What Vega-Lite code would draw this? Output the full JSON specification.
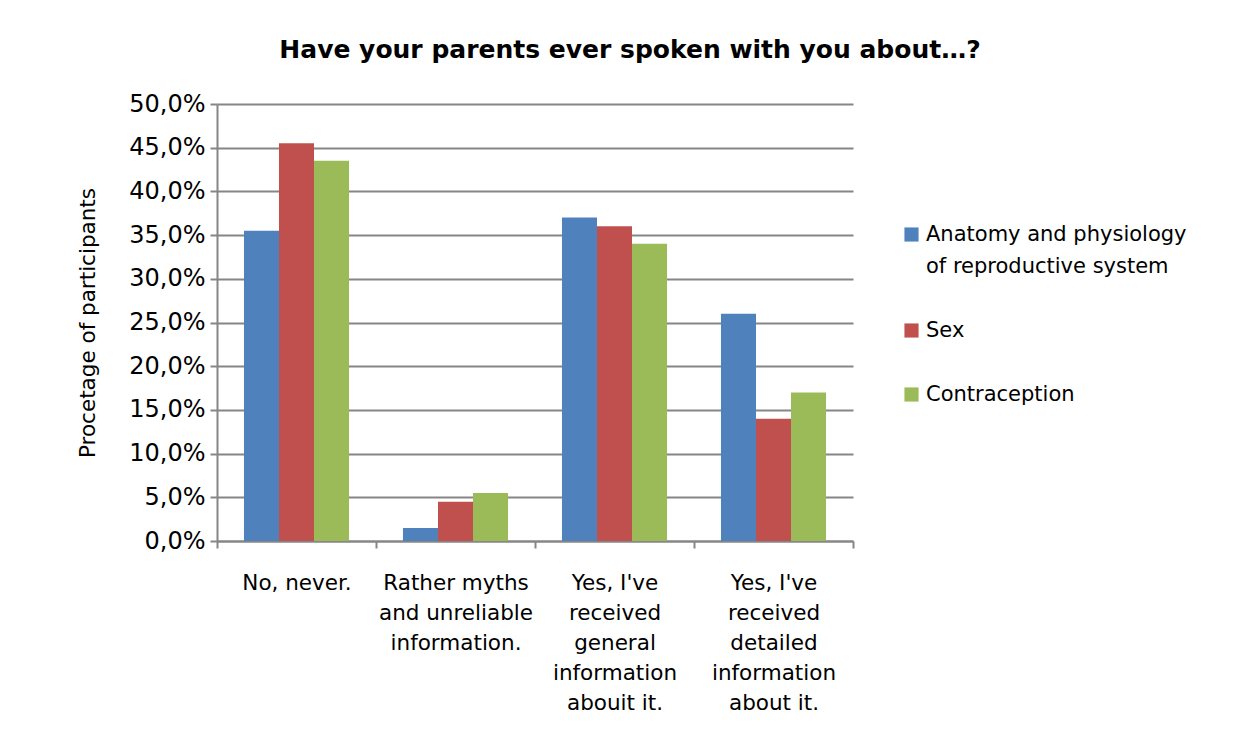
{
  "$schema": "https://vega.github.io/schema/vega-lite/v6.json",
  "width": 636,
  "height": 437,
  "autosize": {"type": "none"},
  "padding": {"left": 217, "top": 104, "right": 389, "bottom": 192},
  "background": "white",
  "title": {
    "text": "Have your parents ever spoken with you about…?",
    "font": "DejaVu Sans",
    "fontSize": 25,
    "fontWeight": "bold",
    "color": "black",
    "anchor": "middle",
    "dx": 95,
    "offset": 29
  },
  "data": {
    "values": [
      {"answer": "No, never.", "topic": "Anatomy and physiology|of reproductive system", "share": 0.355},
      {"answer": "No, never.", "topic": "Sex", "share": 0.455},
      {"answer": "No, never.", "topic": "Contraception", "share": 0.435},
      {"answer": "Rather myths|and unreliable|information.", "topic": "Anatomy and physiology|of reproductive system", "share": 0.015},
      {"answer": "Rather myths|and unreliable|information.", "topic": "Sex", "share": 0.045},
      {"answer": "Rather myths|and unreliable|information.", "topic": "Contraception", "share": 0.055},
      {"answer": "Yes, I've|received|general|information|abouit it.", "topic": "Anatomy and physiology|of reproductive system", "share": 0.37},
      {"answer": "Yes, I've|received|general|information|abouit it.", "topic": "Sex", "share": 0.36},
      {"answer": "Yes, I've|received|general|information|abouit it.", "topic": "Contraception", "share": 0.34},
      {"answer": "Yes, I've|received|detailed|information|about it.", "topic": "Anatomy and physiology|of reproductive system", "share": 0.26},
      {"answer": "Yes, I've|received|detailed|information|about it.", "topic": "Sex", "share": 0.14},
      {"answer": "Yes, I've|received|detailed|information|about it.", "topic": "Contraception", "share": 0.17}
    ]
  },
  "mark": {"type": "bar"},
  "encoding": {
    "x": {
      "field": "answer",
      "type": "nominal",
      "sort": null,
      "scale": {"paddingInner": 0, "paddingOuter": 0},
      "axis": {
        "title": null,
        "labelAngle": 0,
        "labelExpr": "split(datum.label, '|')",
        "labelFont": "DejaVu Sans",
        "labelFontSize": 21.5,
        "labelColor": "black",
        "labelLineHeight": 30,
        "labelPadding": 24,
        "labelBaseline": "top",
        "labelLimit": 200,
        "tickBand": "extent",
        "tickColor": "#868686",
        "tickWidth": 2,
        "tickSize": 7,
        "domainColor": "#868686",
        "domainWidth": 2,
        "grid": false
      }
    },
    "xOffset": {
      "field": "topic",
      "type": "nominal",
      "sort": ["Anatomy and physiology|of reproductive system", "Sex", "Contraception"],
      "scale": {"paddingInner": 0, "paddingOuter": 0.77}
    },
    "y": {
      "field": "share",
      "type": "quantitative",
      "scale": {"domain": [0, 0.5]},
      "axis": {
        "title": "Procetage of participants",
        "titleFont": "DejaVu Sans",
        "titleFontSize": 21.5,
        "titleFontWeight": "normal",
        "titleColor": "black",
        "titlePadding": 29,
        "values": [0, 0.05, 0.1, 0.15, 0.2, 0.25, 0.3, 0.35, 0.4, 0.45, 0.5],
        "labelExpr": "replace(format(datum.value, '.1%'), '.', ',')",
        "labelFont": "DejaVu Sans",
        "labelFontSize": 24,
        "labelColor": "black",
        "labelPadding": 5,
        "tickColor": "#868686",
        "tickWidth": 2,
        "tickSize": 7,
        "domainColor": "#868686",
        "domainWidth": 2,
        "grid": true,
        "gridColor": "#868686",
        "gridWidth": 2
      }
    },
    "color": {
      "field": "topic",
      "type": "nominal",
      "sort": ["Anatomy and physiology|of reproductive system", "Sex", "Contraception"],
      "scale": {"range": ["#4F81BD", "#C0504D", "#9BBB59"]},
      "legend": {
        "title": null,
        "orient": "none",
        "legendX": 684,
        "legendY": 120,
        "symbolType": "square",
        "symbolSize": 200,
        "symbolStrokeWidth": 0,
        "labelExpr": "split(datum.label, '|')",
        "labelFont": "DejaVu Sans",
        "labelFontSize": 21,
        "labelColor": "black",
        "labelLimit": 400,
        "labelOffset": 4,
        "rowPadding": 42,
        "labelLineHeight": 32,
        "encode": {"labels": {"update": {"lineHeight": {"value": 32}}}}
      }
    }
  },
  "config": {
    "view": {"stroke": null}
  }
}
